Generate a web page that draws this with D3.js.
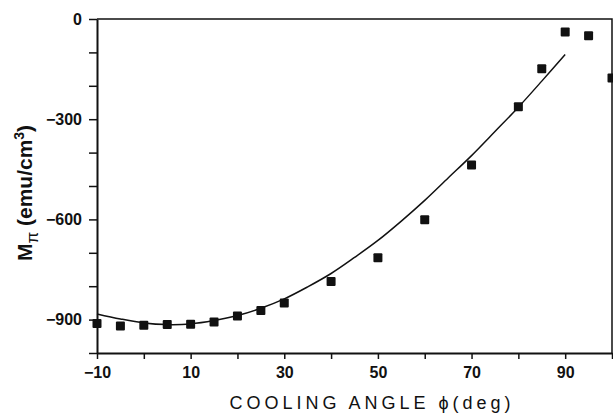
<!DOCTYPE html>
<html>
<head>
<meta charset="utf-8">
<script src="https://cdn.jsdelivr.net/npm/d3@7"></script>
<style>
  body { margin: 0; background: #fff; }
  svg { display: block; }
  .tick-label { font-family: "Liberation Sans", Arial, sans-serif; font-weight: bold; font-size: 16px; fill: #111; }
  .axis-title { font-family: "Liberation Sans", Arial, sans-serif; fill: #111; }
</style>
</head>
<body>
<div id="chart"></div>
<script>
// measured points: cooling angle (deg) vs M_pi (emu/cm^3)
var angles = [-10, -5, 0, 5, 10, 15, 20, 25, 30, 40, 50, 60, 70, 80, 85, 90, 95, 100];
var magnetization = [-912, -919, -917, -915, -914, -907, -889, -873, -850, -786, -715, -601, -437, -263, -149, -39, -50, -177];

// fitted curve
var fitAngles = [-10, -5, 0, 5, 10, 15, 20, 25, 30, 35, 40, 45, 50, 55, 60, 65, 70, 75, 80, 85, 90];
var fitValues = [-883, -898, -910, -915, -913, -903, -888, -866, -838, -802, -762, -714, -663, -605, -543, -476, -409, -337, -264, -186, -106];

var xTickLabels = [-10, 10, 30, 50, 70, 90];
var yTickLabels = [0, -300, -600, -900];

var margin = { top: 19, right: 1, bottom: 62, left: 97 };
var totalW = 613, totalH = 415;
var width = totalW - margin.left - margin.right;
var height = totalH - margin.top - margin.bottom;

var svg = d3.select('#chart')
    .append('svg')
    .attr('width', totalW)
    .attr('height', totalH)
    .append('g')
    .attr('transform', "translate(" + margin.left + "," + margin.top + ")");

var xScale = d3.scaleLinear().domain([-10, 100]).range([0, width]);
var yScale = d3.scaleLinear().domain([-1000, 0]).range([height, 0]);

var fmt = function(d) { return d < 0 ? "\u2212" + Math.abs(d) : String(d); };

// frame (top + right)
svg.append('path')
    .attr('d', "M0,0H" + width + "V" + height)
    .attr('fill', 'none')
    .attr('stroke', '#111')
    .attr('stroke-width', 1.5);

// x axis
var xAxis = d3.axisBottom(xScale)
    .tickValues(d3.range(-10, 101, 10))
    .tickSize(6)
    .tickSizeOuter(0)
    .tickFormat(function(d) { return xTickLabels.indexOf(d) >= 0 ? fmt(d) : ""; });

var gx = svg.append('g')
    .attr('transform', "translate(0," + height + ")")
    .call(xAxis);
gx.select('.domain').attr('stroke', '#111').attr('stroke-width', 2);
gx.selectAll('.tick line').attr('stroke', '#111').attr('stroke-width', 1.5);
gx.selectAll('.tick text').attr('class', 'tick-label').attr('dy', '0.95em').attr('y', 10);

// y axis
var yAxis = d3.axisLeft(yScale)
    .tickValues(d3.range(-1000, 1, 100))
    .tickSize(8)
    .tickSizeOuter(0)
    .tickFormat(function(d) { return yTickLabels.indexOf(d) >= 0 ? fmt(d) : ""; });

var gy = svg.append('g').call(yAxis);
gy.select('.domain').attr('stroke', '#111').attr('stroke-width', 2);
gy.selectAll('.tick line').attr('stroke', '#111').attr('stroke-width', 1.5);
gy.selectAll('.tick text').attr('class', 'tick-label').attr('x', -15);

// fit line
var line = d3.line()
    .x(function(d, i) { return xScale(fitAngles[i]); })
    .y(function(d) { return yScale(d); })
    .curve(d3.curveCatmullRom);

svg.append('path')
    .datum(fitValues)
    .attr('d', line)
    .attr('fill', 'none')
    .attr('stroke', '#111')
    .attr('stroke-width', 1.5);

// square markers
var sq = 9;
svg.selectAll('.pt')
    .data(magnetization)
    .enter()
    .append('rect')
    .attr('class', 'pt')
    .attr('x', function(d, i) { return xScale(angles[i]) - sq / 2; })
    .attr('y', function(d) { return yScale(d) - sq / 2; })
    .attr('width', sq)
    .attr('height', sq)
    .attr('rx', 1)
    .attr('fill', '#111');

// axis titles
svg.append('text')
    .attr('class', 'axis-title')
    .attr('x', 275)
    .attr('y', 390)
    .attr('text-anchor', 'middle')
    .style('font-size', '18px')
    .style('letter-spacing', '4px')
    .text("COOLING ANGLE \u03d5(deg)");

var ylab = svg.append('text')
    .attr('class', 'axis-title')
    .attr('transform', "translate(-65," + 174 + ") rotate(-90)")
    .attr('text-anchor', 'middle')
    .style('font-size', '21px')
    .style('font-weight', 'bold');
ylab.append('tspan').text("M");
ylab.append('tspan').attr('dy', 6).style('font-size', '17px').style('font-weight', 'normal').text("\u03c0");
ylab.append('tspan').attr('dy', -6).text(" (emu/cm");
ylab.append('tspan').attr('dy', -8).style('font-size', '14px').text("3");
ylab.append('tspan').attr('dy', 8).text(")");
</script>
</body>
</html>
